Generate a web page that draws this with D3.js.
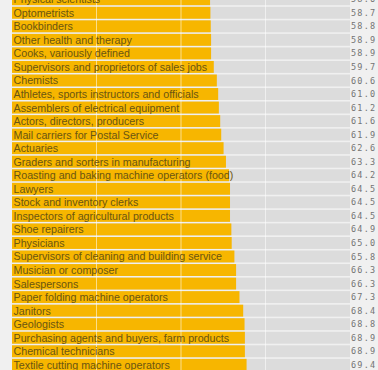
<!DOCTYPE html>
<html>
<head>
<meta charset="utf-8">
<script src="https://cdn.jsdelivr.net/npm/d3@7"></script>
<style>
    html, body { margin: 0; padding: 0; background: #f0f0f0; }
    #chart { width: 378px; height: 370px; overflow: hidden; }
</style>
</head>
<body>
<div id="chart"></div>
<script>
// occupations (sorted by value) and their values
const occupations = [
    "Physical scientists",
    "Optometrists",
    "Bookbinders",
    "Other health and therapy",
    "Cooks, variously defined",
    "Supervisors and proprietors of sales jobs",
    "Chemists",
    "Athletes, sports instructors and officials",
    "Assemblers of electrical equipment",
    "Actors, directors, producers",
    "Mail carriers for Postal Service",
    "Actuaries",
    "Graders and sorters in manufacturing",
    "Roasting and baking machine operators (food)",
    "Lawyers",
    "Stock and inventory clerks",
    "Inspectors of agricultural products",
    "Shoe repairers",
    "Physicians",
    "Supervisors of cleaning and building service",
    "Musician or composer",
    "Salespersons",
    "Paper folding machine operators",
    "Janitors",
    "Geologists",
    "Purchasing agents and buyers, farm products",
    "Chemical technicians",
    "Textile cutting machine operators"
];
const values = [
    58.6, 58.7, 58.8, 58.9, 58.9, 59.7, 60.6, 61.0, 61.2, 61.6,
    61.9, 62.6, 63.3, 64.2, 64.5, 64.5, 64.5, 64.9, 65.0, 65.8,
    66.3, 66.3, 67.3, 68.4, 68.8, 68.9, 68.9, 69.4
];
const gridTicks = [25, 50, 75];

let data = occupations.map((d, i) => ({name: d, value: values[i]}));

let width = 378, height = 370;
let rowStep = 13.54, rowTop = -7.54, gap = 1.6;

let svg = d3.select("#chart").append("svg")
    .attr("width", width)
    .attr("height", height);

let x = d3.scaleLinear()
    .domain([0, 100])
    .range([12, 350]);

let y = d3.scaleBand()
    .domain(occupations)
    .range([rowTop, rowTop + rowStep * occupations.length])
    .paddingInner(gap / rowStep)
    .paddingOuter(gap / rowStep / 2);

// grey track behind every bar
svg.selectAll(".track")
    .data(data)
    .enter().append("rect")
    .attr("class", "track")
    .attr("x", x(0))
    .attr("y", d => y(d.name))
    .attr("width", x(100) - x(0))
    .attr("height", y.bandwidth())
    .style("fill", "#dcdcdc");

// the bars
svg.selectAll(".bar")
    .data(data)
    .enter().append("rect")
    .attr("class", "bar")
    .attr("x", x(0))
    .attr("y", d => y(d.name))
    .attr("width", d => x(d.value) - x(0))
    .attr("height", y.bandwidth())
    .style("fill", "#f7b600");

// vertical grid lines
svg.selectAll(".grid")
    .data(gridTicks)
    .enter().append("line")
    .attr("class", "grid")
    .attr("x1", d => x(d))
    .attr("x2", d => x(d))
    .attr("y1", 0)
    .attr("y2", height)
    .style("stroke", "#ffffff")
    .style("stroke-opacity", 0.55)
    .style("stroke-width", 1);

// occupation labels
svg.selectAll(".label")
    .data(data)
    .enter().append("text")
    .attr("class", "label")
    .attr("x", x(0) + 1.5)
    .attr("y", d => y(d.name) + y.bandwidth() / 2)
    .attr("dy", "0.37em")
    .style("font-family", "'Liberation Sans', Arial, sans-serif")
    .style("font-size", "10.7px")
    .style("fill", "#6a5512")
    .text(d => d.name);

// values on the right
svg.selectAll(".value")
    .data(data)
    .enter().append("text")
    .attr("class", "value")
    .attr("x", 351)
    .attr("y", d => y(d.name) + y.bandwidth() / 2)
    .attr("dy", "0.36em")
    .style("font-family", "'DejaVu Sans Mono', monospace")
    .style("font-size", "8.5px")
    .style("letter-spacing", "1.2px")
    .style("fill", "#747474")
    .text(d => d.value.toFixed(1));
</script>
</body>
</html>
